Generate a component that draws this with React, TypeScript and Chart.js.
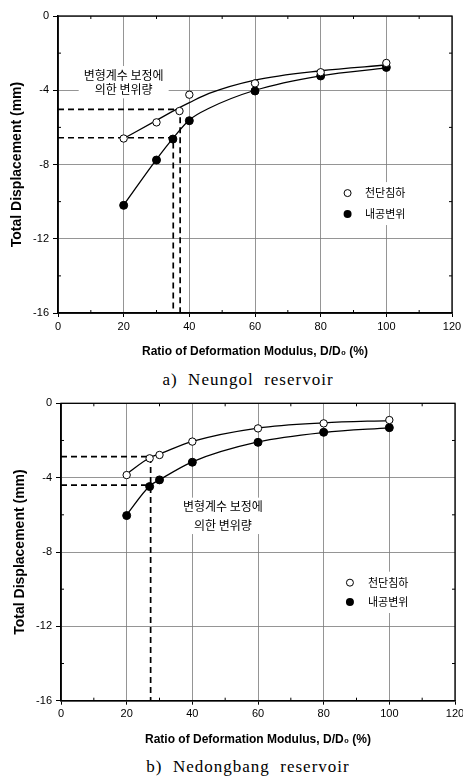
import React, { useEffect, useRef } from "react";
import { Chart, registerables } from "chart.js";
Chart.register(...registerables);

// ---------- shared labels / ticks ----------
const xMinorTicks = [10, 30, 50, 70, 90, 110];
const yMinorTicks = [-2, -6, -10, -14];
const seriesLabels = ["천단침하", "내공변위"];
const noteLines = ["변형계수 보정에", "의한 변위량"];
const xAxisTitle = "Ratio of Deformation Modulus, D/D\u2080 (%)";
const yAxisTitle = "Total Displacement (mm)";
const captions = ["a)  Neungol  reservoir", "b)  Nedongbang  reservoir"];

// ---------- a) Neungol reservoir ----------
const neungolCrownX = [20, 30, 37, 40, 60, 80, 100];
const neungolCrownY = [-6.6, -5.73, -5.12, -4.24, -3.63, -3.03, -2.53];
const neungolConvX = [20, 30, 35, 40, 60, 80, 100];
const neungolConvY = [-10.2, -7.76, -6.63, -5.64, -4.04, -3.23, -2.77];
const neungolCrownFitX = [20, 30, 37, 40, 46, 60, 80, 100];
const neungolCrownFitY = [-6.6, -5.62, -4.94, -4.67, -4.17, -3.45, -2.95, -2.64];
const neungolConvFitX = [20, 30, 35, 40, 46, 60, 80, 100];
const neungolConvFitY = [-10.18, -7.72, -6.59, -5.6, -4.97, -4.0, -3.22, -2.8];
const neungolGuideAX = [0, 37.2, 37.2];
const neungolGuideAY = [-5.03, -5.03, -16];
const neungolGuideBX = [0, 35.1, 35.1];
const neungolGuideBY = [-6.56, -6.56, -16];

// ---------- b) Nedongbang reservoir ----------
const nedongX = [20, 27, 30, 40, 60, 80, 100];
const nedongCrownY = [-3.86, -2.96, -2.78, -2.06, -1.35, -1.08, -0.9];
const nedongConvY = [-6.04, -4.48, -4.12, -3.17, -2.1, -1.56, -1.31];
const nedongFitX = [20, 27, 30, 40, 60, 80, 100];
const nedongCrownFitY = [-3.8, -2.93, -2.73, -2.05, -1.33, -1.05, -0.93];
const nedongConvFitY = [-6.0, -4.45, -4.12, -3.15, -2.08, -1.57, -1.32];
const nedongGuideAX = [0, 27.3, 27.3];
const nedongGuideAY = [-2.87, -2.87, -16];
const nedongGuideBX = [0, 27.3];
const nedongGuideBY = [-4.4, -4.4];

const zip = (xs: number[], ys: number[]) => xs.map((x, i) => ({ x, y: ys[i] }));

const SANS = "'Liberation Sans', Arial, sans-serif";
const KR = "'Noto Sans CJK KR', 'Noto Sans', sans-serif";
const NOTE_FONT = `12px ${KR}`;
const LEGEND_FONT = `11px ${KR}`;

function buildDatasets(
  crownX: number[], crownY: number[], convX: number[], convY: number[],
  crownFitX: number[], crownFitY: number[], convFitX: number[], convFitY: number[],
  guides: [number[], number[]][]
) {
  const ds: any[] = [
    {
      label: seriesLabels[0], data: zip(crownX, crownY), showLine: false,
      pointRadius: 3.7, pointBackgroundColor: "#fff", pointBorderColor: "#000", pointBorderWidth: 1, order: 0,
    },
    {
      label: seriesLabels[1], data: zip(convX, convY), showLine: false,
      pointRadius: 4, pointBackgroundColor: "#000", pointBorderColor: "#000", pointBorderWidth: 1, order: 0,
    },
    {
      label: "fit1", data: zip(crownFitX, crownFitY), showLine: true, pointRadius: 0,
      borderColor: "#000", borderWidth: 1.3, cubicInterpolationMode: "monotone", order: 2,
    },
    {
      label: "fit2", data: zip(convFitX, convFitY), showLine: true, pointRadius: 0,
      borderColor: "#000", borderWidth: 1.3, cubicInterpolationMode: "monotone", order: 2,
    },
  ];
  guides.forEach(([gx, gy], i) => {
    ds.push({
      label: "guide" + i, data: zip(gx, gy), showLine: true, pointRadius: 0,
      borderColor: "#000", borderWidth: 1.7, borderDash: [6, 4], tension: 0, order: 3,
    });
  });
  return ds;
}

type PanelCfg = {
  top: number;
  height: number;
  pad: { top: number; right: number; left: number };
  xAxisH: number;
  datasets: any[];
  noteX: number; noteY1: number; noteY2: number;
  legMarkX: number; legTextX: number; legY1: number; legY2: number;
};

function decorPlugin(cfg: PanelCfg) {
  const geom = (chart: any) => {
    const { ctx, scales } = chart;
    const x = scales.x, y = scales.y;
    const cx = x.getPixelForValue(cfg.noteX);
    const ny1 = y.getPixelForValue(cfg.noteY1);
    const ny2 = y.getPixelForValue(cfg.noteY2);
    ctx.save();
    ctx.font = NOTE_FONT;
    const nw = Math.max(...noteLines.map((t) => ctx.measureText(t).width));
    ctx.font = LEGEND_FONT;
    const lw = Math.max(...seriesLabels.map((t) => ctx.measureText(t).width));
    ctx.restore();
    const mx = x.getPixelForValue(cfg.legMarkX);
    const tx = x.getPixelForValue(cfg.legTextX);
    const ly1 = y.getPixelForValue(cfg.legY1);
    const ly2 = y.getPixelForValue(cfg.legY2);
    return { cx, ny1, ny2, nw, mx, tx, ly1, ly2, lw };
  };
  return {
    id: "decor",
    beforeDatasetsDraw(chart: any) {
      const { ctx } = chart;
      const g = geom(chart);
      ctx.save();
      ctx.fillStyle = "#fff";
      ctx.fillRect(g.cx - g.nw / 2 - 5, g.ny1 - 9, g.nw + 10, g.ny2 - g.ny1 + 18);
      ctx.fillRect(g.mx - 8, g.ly1 - 11, g.tx + g.lw + 6 - (g.mx - 8), g.ly2 - g.ly1 + 22);
      ctx.restore();
    },
    afterDraw(chart: any) {
      const { ctx, chartArea: a, scales } = chart;
      const x = scales.x, y = scales.y;
      const g = geom(chart);
      ctx.save();
      ctx.strokeStyle = "#000";
      ctx.lineWidth = 1.3;
      ctx.strokeRect(a.left, a.top, a.right - a.left, a.bottom - a.top);
      ctx.lineWidth = 1;
      ctx.beginPath();
      xMinorTicks.forEach((v) => {
        const px = x.getPixelForValue(v);
        ctx.moveTo(px, a.bottom); ctx.lineTo(px, a.bottom - 3);
        ctx.moveTo(px, a.top); ctx.lineTo(px, a.top + 3);
      });
      yMinorTicks.forEach((v) => {
        const py = y.getPixelForValue(v);
        ctx.moveTo(a.left, py); ctx.lineTo(a.left + 3, py);
        ctx.moveTo(a.right, py); ctx.lineTo(a.right - 3, py);
      });
      ctx.stroke();
      // note
      ctx.fillStyle = "#000";
      ctx.font = NOTE_FONT;
      ctx.textAlign = "center";
      ctx.textBaseline = "middle";
      ctx.fillText(noteLines[0], g.cx, g.ny1);
      ctx.fillText(noteLines[1], g.cx, g.ny2);
      // legend
      ctx.beginPath();
      ctx.arc(g.mx, g.ly1, 3.5, 0, Math.PI * 2);
      ctx.fillStyle = "#fff";
      ctx.fill();
      ctx.lineWidth = 1;
      ctx.stroke();
      ctx.beginPath();
      ctx.arc(g.mx, g.ly2, 4, 0, Math.PI * 2);
      ctx.fillStyle = "#000";
      ctx.fill();
      ctx.font = LEGEND_FONT;
      ctx.textAlign = "left";
      ctx.fillText(seriesLabels[0], g.tx, g.ly1);
      ctx.fillText(seriesLabels[1], g.tx, g.ly2);
      ctx.restore();
    },
  };
}

function Panel({ cfg }: { cfg: PanelCfg }) {
  const ref = useRef<HTMLCanvasElement>(null);
  useEffect(() => {
    if (!ref.current) return;
    const chart = new Chart(ref.current, {
      type: "scatter",
      data: { datasets: cfg.datasets },
      options: {
        animation: false,
        responsive: false,
        layout: { padding: { top: cfg.pad.top, right: cfg.pad.right, left: cfg.pad.left, bottom: 0 } },
        plugins: { legend: { display: false }, tooltip: { enabled: false } },
        scales: {
          x: {
            type: "linear",
            min: 0,
            max: 120,
            ticks: { stepSize: 20, color: "#000", font: { size: 11, family: SANS }, padding: 3, maxRotation: 0 },
            grid: { color: "#7a7a7a", lineWidth: 0.8, tickLength: 4, tickColor: "#000", tickWidth: 1 },
            border: { display: true, color: "#000", width: 1.5 },
            title: {
              display: true, text: xAxisTitle, color: "#000",
              font: { size: 12, weight: "bold", family: SANS }, padding: { top: 0, bottom: 5.8 },
            },
            afterFit: (s: any) => { s.height = cfg.xAxisH; s.paddingLeft = 0; s.paddingRight = 0; },
          },
          y: {
            type: "linear",
            min: -16,
            max: 0,
            ticks: { stepSize: 4, color: "#000", font: { size: 11, family: SANS }, padding: 4 },
            grid: { color: "#7a7a7a", lineWidth: 0.8, tickLength: 5, tickColor: "#000", tickWidth: 1 },
            border: { display: true, color: "#000", width: 1.5 },
            title: {
              display: true, text: yAxisTitle, color: "#000",
              font: { size: 14, weight: "bold", family: SANS }, padding: { top: 8.6, bottom: 0 },
            },
            afterFit: (s: any) => { s.width = 58; s.paddingTop = 0; s.paddingBottom = 0; },
          },
        },
      } as any,
      plugins: [decorPlugin(cfg)],
    });
    return () => chart.destroy();
  }, [cfg]);
  return (
    <canvas
      ref={ref}
      width={463}
      height={cfg.height}
      style={{ position: "absolute", left: 0, top: cfg.top, width: 463, height: cfg.height }}
    />
  );
}

const panelA: PanelCfg = {
  top: 0,
  height: 365,
  pad: { top: 16, right: 11, left: 0 },
  xAxisH: 52,
  datasets: buildDatasets(
    neungolCrownX, neungolCrownY, neungolConvX, neungolConvY,
    neungolCrownFitX, neungolCrownFitY, neungolConvFitX, neungolConvFitY,
    [[neungolGuideAX, neungolGuideAY], [neungolGuideBX, neungolGuideBY]]
  ),
  noteX: 20, noteY1: -3.18, noteY2: -3.95,
  legMarkX: 88.2, legTextX: 93.5, legY1: -9.54, legY2: -10.67,
};

const panelB: PanelCfg = {
  top: 388,
  height: 365,
  pad: { top: 15.3, right: 8, left: 3 },
  xAxisH: 52.3,
  datasets: buildDatasets(
    nedongX, nedongCrownY, nedongX, nedongConvY,
    nedongFitX, nedongCrownFitY, nedongFitX, nedongConvFitY,
    [[nedongGuideAX, nedongGuideAY], [nedongGuideBX, nedongGuideBY]]
  ),
  noteX: 49.3, noteY1: -5.56, noteY2: -6.55,
  legMarkX: 88, legTextX: 93.5, legY1: -9.65, legY2: -10.69,
};

const captionStyle = (top: number): React.CSSProperties => ({
  position: "absolute",
  left: 98,
  width: 300,
  top,
  textAlign: "center",
  fontFamily: "'Liberation Serif', 'Times New Roman', serif",
  fontSize: 17,
  lineHeight: "20px",
  letterSpacing: 1,
  whiteSpace: "pre",
  color: "#000",
});

export default function App() {
  return (
    <div style={{ position: "absolute", left: 0, top: 0, width: 463, height: 777, background: "#fff", overflow: "hidden" }}>
      <Panel cfg={panelA} />
      <div style={captionStyle(369.5)}>{captions[0]}</div>
      <Panel cfg={panelB} />
      <div style={captionStyle(757)}>{captions[1]}</div>
    </div>
  );
}
